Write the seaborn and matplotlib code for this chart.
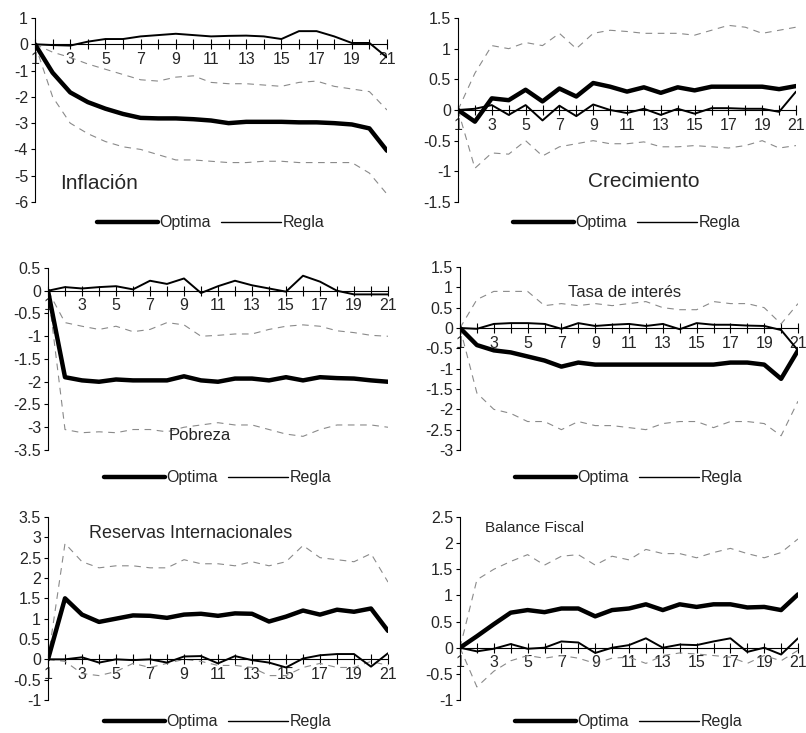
import numpy as np
import pandas as pd
import matplotlib
matplotlib.use('Agg')
import matplotlib.pyplot as plt
import seaborn as sns
from matplotlib.ticker import FormatStrFormatter, MultipleLocator, FixedLocator
from matplotlib.lines import Line2D

# periods 1..21
periodo = list(range(1, 22))

# Inflacion
infl_optima = [0, -1.08, -1.83, -2.2, -2.45, -2.65, -2.8, -2.82, -2.82, -2.85, -2.9,
               -3.0, -2.95, -2.95, -2.95, -2.97, -2.97, -3.0, -3.05, -3.2, -4.05]
infl_regla = [0, -0.03, -0.05, 0.1, 0.2, 0.2, 0.3, 0.35, 0.4, 0.35, 0.3,
              0.32, 0.33, 0.3, 0.2, 0.5, 0.5, 0.3, 0.05, 0.05, -0.5]
infl_sup = [0, -0.3, -0.5, -0.75, -0.95, -1.15, -1.35, -1.4, -1.25, -1.2, -1.45,
            -1.5, -1.5, -1.55, -1.6, -1.45, -1.4, -1.6, -1.7, -1.8, -2.5]
infl_inf = [0, -2.0, -3.0, -3.4, -3.7, -3.9, -4.0, -4.2, -4.4, -4.4, -4.45,
            -4.5, -4.5, -4.45, -4.45, -4.5, -4.5, -4.5, -4.5, -4.9, -5.7]

# Crecimiento
crec_optima = [0, -0.19, 0.19, 0.16, 0.33, 0.14, 0.35, 0.22, 0.44, 0.38, 0.3,
               0.37, 0.28, 0.37, 0.32, 0.38, 0.38, 0.38, 0.38, 0.34, 0.39]
crec_regla = [0, 0.02, 0.08, -0.08, 0.08, -0.17, 0.07, -0.1, 0.09, 0.0, -0.05,
              0.02, -0.08, 0.02, -0.06, 0.03, 0.03, 0.02, 0.02, -0.03, 0.3]
crec_sup = [0, 0.6, 1.05, 1.0, 1.1, 1.05, 1.25, 1.0, 1.25, 1.3, 1.28,
            1.25, 1.25, 1.25, 1.22, 1.3, 1.38, 1.35, 1.25, 1.3, 1.35]
crec_inf = [0, -0.95, -0.7, -0.72, -0.5, -0.75, -0.6, -0.55, -0.5, -0.55, -0.55,
            -0.52, -0.6, -0.6, -0.58, -0.6, -0.62, -0.58, -0.5, -0.62, -0.58]

# Pobreza
pobr_optima = [0, -1.9, -1.97, -2.0, -1.95, -1.97, -1.97, -1.97, -1.88, -1.97, -2.0,
               -1.93, -1.93, -1.97, -1.9, -1.97, -1.9, -1.92, -1.93, -1.97, -2.0]
pobr_regla = [0, 0.08, 0.05, 0.08, 0.1, 0.03, 0.22, 0.15, 0.27, -0.05, 0.1,
              0.22, 0.12, 0.05, -0.02, 0.33, 0.2, 0.0, -0.08, -0.08, -0.08]
pobr_sup = [0, -0.7, -0.78, -0.85, -0.78, -0.9, -0.85, -0.7, -0.75, -1.0, -0.98,
            -0.95, -0.95, -0.85, -0.78, -0.75, -0.78, -0.88, -0.92, -0.98, -1.0]
pobr_inf = [0, -3.05, -3.12, -3.1, -3.12, -3.05, -3.05, -3.1, -3.0, -2.95, -2.9,
            -2.95, -2.95, -3.05, -3.15, -3.2, -3.05, -2.95, -2.95, -2.95, -3.0]

# Tasa de interes
tasa_optima = [0, -0.42, -0.55, -0.6, -0.7, -0.8, -0.95, -0.85, -0.9, -0.9, -0.9,
               -0.9, -0.9, -0.9, -0.9, -0.9, -0.85, -0.85, -0.9, -1.25, -0.55]
tasa_regla = [0, -0.02, 0.1, 0.12, 0.12, 0.1, -0.02, 0.12, 0.05, 0.08, 0.1,
              0.05, 0.1, -0.03, 0.12, 0.08, 0.08, 0.06, 0.05, -0.05, -0.55]
tasa_sup = [0, 0.7, 0.9, 0.9, 0.9, 0.55, 0.6, 0.55, 0.6, 0.55, 0.6,
            0.65, 0.5, 0.45, 0.45, 0.65, 0.6, 0.6, 0.5, 0.1, 0.6]
tasa_inf = [0, -1.6, -2.0, -2.1, -2.3, -2.3, -2.5, -2.3, -2.4, -2.4, -2.45,
            -2.5, -2.35, -2.3, -2.3, -2.45, -2.3, -2.3, -2.35, -2.65, -1.8]

# Reservas internacionales
rese_optima = [0, 1.5, 1.1, 0.92, 1.0, 1.08, 1.07, 1.02, 1.1, 1.12, 1.07,
               1.13, 1.12, 0.93, 1.05, 1.2, 1.1, 1.22, 1.17, 1.25, 0.7]
rese_regla = [0, 0.0, 0.05, -0.08, 0.0, -0.02, 0.0, -0.08, 0.07, 0.08, -0.1,
              0.08, -0.02, -0.08, -0.2, 0.02, 0.1, 0.13, 0.13, -0.18, 0.15]
rese_sup = [0, 2.85, 2.4, 2.25, 2.3, 2.3, 2.25, 2.25, 2.45, 2.35, 2.35,
            2.3, 2.4, 2.3, 2.4, 2.8, 2.5, 2.45, 2.4, 2.6, 1.9]
rese_inf = [0, -0.05, -0.35, -0.4, -0.3, -0.1, -0.2, -0.1, 0.0, -0.05, -0.15,
            -0.15, -0.2, -0.4, -0.4, -0.2, -0.1, -0.2, -0.2, -0.05, -0.15]

# Balance fiscal
bala_optima = [0, 0.22, 0.45, 0.67, 0.72, 0.68, 0.75, 0.75, 0.6, 0.72, 0.75,
               0.83, 0.72, 0.83, 0.78, 0.83, 0.83, 0.77, 0.78, 0.72, 1.02]
bala_regla = [0, -0.07, -0.02, 0.07, -0.02, 0.0, 0.12, 0.1, -0.1, 0.0, 0.05,
              0.18, 0.0, 0.06, 0.05, 0.12, 0.18, -0.08, 0.0, -0.13, 0.18]
bala_sup = [0, 1.3, 1.5, 1.65, 1.78, 1.58, 1.75, 1.78, 1.58, 1.75, 1.68,
            1.88, 1.8, 1.8, 1.72, 1.82, 1.9, 1.8, 1.72, 1.82, 2.08]
bala_inf = [0, -0.75, -0.45, -0.25, -0.15, -0.2, -0.15, -0.2, -0.3, -0.2, -0.18,
            -0.3, -0.15, -0.1, -0.12, -0.15, -0.18, -0.3, -0.15, -0.25, -0.05]

sns.set_style('white')
plt.rcParams['font.family'] = ['Liberation Sans', 'DejaVu Sans']

fig = plt.figure(figsize=(8.06, 7.33), dpi=100)
W, H = 806, 733

# (name, series, ylim, ystep, axes px box, title pos, title size, legend y)
panels = [
    ('Inflación', infl_optima, infl_regla, infl_sup, infl_inf, (-6, 1), 1,
     (35, 387, 18, 202), (0.07, 0.10), 15, -0.114),
    ('Crecimiento', crec_optima, crec_regla, crec_sup, crec_inf, (-1.5, 1.5), 0.5,
     (458, 796, 18, 202), (0.385, 0.11), 15, -0.114),
    ('Pobreza', pobr_optima, pobr_regla, pobr_sup, pobr_inf, (-3.5, 0.5), 0.5,
     (48, 388, 268, 450), (0.356, 0.08), 12, -0.153),
    ('Tasa de interés', tasa_optima, tasa_regla, tasa_sup, tasa_inf, (-3, 1.5), 0.5,
     (460, 798, 267, 450), (0.32, 0.86), 12, -0.153),
    ('Reservas Internacionales', rese_optima, rese_regla, rese_sup, rese_inf, (-1, 3.5), 0.5,
     (48, 388, 517, 700), (0.12, 0.91), 13, -0.12),
    ('Balance Fiscal', bala_optima, bala_regla, bala_sup, bala_inf, (-1, 2.5), 0.5,
     (460, 798, 517, 700), (0.074, 0.94), 11, -0.12),
]

for name, opt, reg, sup, inf, ylim, ystep, box, tpos, tsize, ly in panels:
    x0, x1, y0, y1 = box
    ax = fig.add_axes([x0 / W, 1 - y1 / H, (x1 - x0) / W, (y1 - y0) / H])
    for band in (sup, inf):
        sns.lineplot(x=periodo, y=band, ax=ax, color='#8a8a8a', linewidth=0.8,
                     linestyle=(0, (6, 5)))
    sns.lineplot(x=periodo, y=reg, ax=ax, color='black', linewidth=1.4)
    sns.lineplot(x=periodo, y=opt, ax=ax, color='black', linewidth=3.2)

    ax.set_xlim(1, 21)
    ax.set_ylim(*ylim)
    ax.spines['top'].set_visible(False)
    ax.spines['right'].set_visible(False)
    ax.spines['bottom'].set_position(('data', 0))
    ax.spines['bottom'].set_linewidth(0.8)
    ax.spines['left'].set_linewidth(0.8)
    ax.spines['bottom'].set_color('black')
    ax.spines['left'].set_color('black')
    ax.xaxis.set_major_locator(FixedLocator(list(range(1, 22, 2))))
    ax.xaxis.set_minor_locator(FixedLocator(list(range(2, 22, 2))))
    ax.yaxis.set_major_locator(MultipleLocator(ystep))
    ax.yaxis.set_major_formatter(FormatStrFormatter('%g'))
    ax.tick_params(axis='x', which='both', direction='inout', length=7, width=0.8,
                   labelsize=11.5, pad=2, bottom=True, color='black')
    ax.tick_params(axis='y', direction='out', length=3, width=0.8,
                   labelsize=11.5, pad=2, left=True, color='black')
    ax.set_xlabel('')
    ax.set_ylabel('')
    ax.text(tpos[0], tpos[1], name, transform=ax.transAxes, fontsize=tsize,
            va='center', ha='left')
    handles = [Line2D([], [], color='black', linewidth=3.2),
               Line2D([], [], color='black', linewidth=1.0)]
    ax.legend(handles, ['Optima', 'Regla'], loc='center', bbox_to_anchor=(0.5, ly),
              ncol=2, frameon=False, fontsize=11.5, handlelength=3.8,
              columnspacing=0.6, handletextpad=0.1, borderpad=0.1)

fig.savefig('out.png', dpi=100)
